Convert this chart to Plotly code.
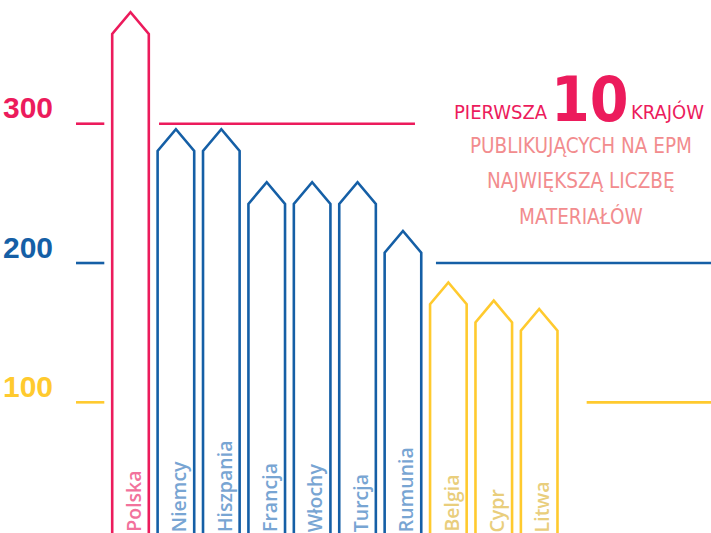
import plotly.graph_objects as go

# ---- data ----
countries = ["Polska", "Niemcy", "Hiszpania", "Francja", "Włochy",
             "Turcja", "Rumunia", "Belgia", "Cypr", "Litwa"]
values = [380, 296, 296, 258, 258, 258, 223, 186, 173, 167]
tick_values = [300, 200, 100]
tick_labels = ["300", "200", "100"]

# ---- styles ----
tier_color = {3: "#EC1B5C", 2: "#155FA6", 1: "#FFCA2E"}
tier_label_color = {3: "#F2729C", 2: "#78A5D3", 1: "#E9CE7C"}
HALF_W = 0.403      # bar half width (category units)
ROOF = 15.6         # roof depth (value units)
XR = [-2.874, 12.784]
YR = [6.2, 388.8]
NARROW = "Liberation Sans Narrow, DejaVu Sans Condensed, Arial Narrow, sans-serif"

def tier(v):
    return min(3, max(1, int(v // 100)))

fig = go.Figure()

for i, (c, v) in enumerate(zip(countries, values)):
    col = tier_color[tier(v)]
    fig.add_trace(go.Scatter(
        x=[i - HALF_W, i - HALF_W, i, i + HALF_W, i + HALF_W],
        y=[-50, v - ROOF, v, v - ROOF, -50],
        mode="lines", line=dict(color=col, width=2.6),
        hoverinfo="skip", showlegend=False, name=c))
    fig.add_annotation(
        x=i + 0.06, xref="x", y=0, yref="paper", yanchor="bottom", xanchor="center",
        yshift=-1, text=c, textangle=-90, showarrow=False,
        font=dict(family="Open Sans", size=19.5, weight=600,
                  color=tier_label_color[tier(v)]))

# guide lines: short tick marks and long reference lines
long_spans = {300: (0.628, 6.265), 200: (6.727, 13.5), 100: (10.046, 13.5)}
for tv, tl in zip(tick_values, tick_labels):
    col = tier_color[tier(tv)]
    fig.add_shape(type="line", xref="x", yref="y", x0=-1.2, x1=-0.577, y0=tv, y1=tv,
                  line=dict(color=col, width=2.6))
    a, b = long_spans[tv]
    fig.add_shape(type="line", xref="x", yref="y", x0=a, x1=b, y0=tv, y1=tv,
                  line=dict(color=col, width=2.6))
    fig.add_annotation(x=55 / 711, xref="paper", xanchor="right", y=tv, yref="y",
                       yanchor="middle", yshift=16, text=tl, showarrow=False,
                       font=dict(family="Liberation Sans", size=30, weight="bold", color=col))

# title block
pink = "#EC1B5C"
salmon = "#F28C8E"
fig.add_annotation(x=550 / 711, xref="paper", xanchor="right", y=1 - 111.5 / 533, yref="paper",
                   yanchor="middle", text="PIERWSZA", showarrow=False,
                   font=dict(family=NARROW, size=20, color=pink))
fig.add_annotation(x=590 / 711, xref="paper", xanchor="center", y=1 - 100 / 533, yref="paper",
                   yanchor="middle", text="10", showarrow=False,
                   font=dict(family=NARROW, size=62, weight="bold", color=pink))
fig.add_annotation(x=629 / 711, xref="paper", xanchor="left", y=1 - 111.5 / 533, yref="paper",
                   yanchor="middle", text="KRAJÓW", showarrow=False,
                   font=dict(family=NARROW, size=20, color=pink))
for txt, yc in [("PUBLIKUJĄCYCH NA EPM", 146), ("NAJWIĘKSZĄ LICZBĘ", 181), ("MATERIAŁÓW", 217)]:
    fig.add_annotation(x=581 / 711, xref="paper", xanchor="center", y=1 - yc / 533, yref="paper",
                       yanchor="middle", text=txt, showarrow=False,
                       font=dict(family=NARROW, size=20.5, color=salmon))

fig.update_layout(
    width=711, height=533, margin=dict(l=0, r=0, t=0, b=0),
    paper_bgcolor="white", plot_bgcolor="white",
    xaxis=dict(range=XR, visible=False, fixedrange=True),
    yaxis=dict(range=YR, visible=False, fixedrange=True),
)

fig.write_html("out.html", config={"displayModeBar": False},
               post_script="document.body.style.margin='0';")
